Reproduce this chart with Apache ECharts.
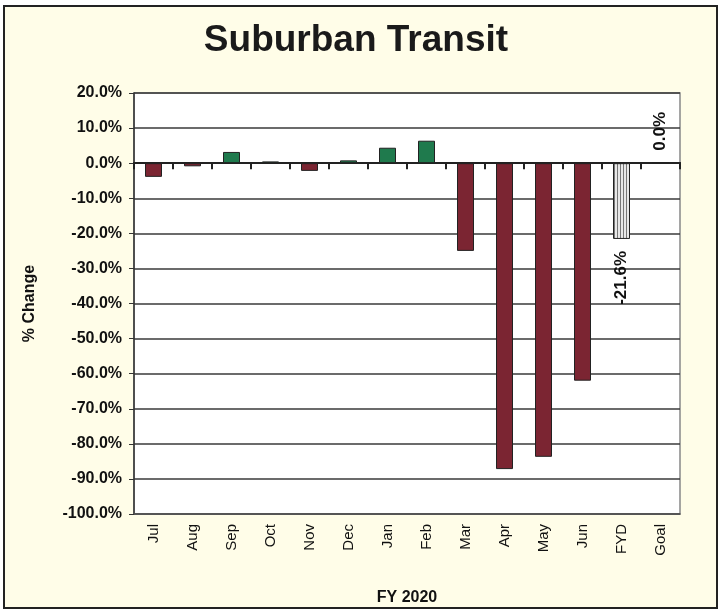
<!DOCTYPE html>
<html>
<head>
<meta charset="utf-8">
<script src="https://cdn.jsdelivr.net/npm/echarts@6/dist/echarts.min.js"></script>
<style>
  html, body { margin: 0; padding: 0; background: #fff; }
  #chart {
    position: absolute; left: 3px; top: 5px;
    width: 715px; height: 604px;
    border: 2px solid #222; box-sizing: border-box;
    background: #fffde8;
  }
</style>
</head>
<body>
<div id="chart"></div>
<script>
const months = ['Jul', 'Aug', 'Sep', 'Oct', 'Nov', 'Dec', 'Jan', 'Feb', 'Mar', 'Apr', 'May', 'Jun', 'FYD', 'Goal']
const changes = [-3.9, -0.9, 3.2, 0.5, -2.2, 0.8, 4.4, 6.4, -25.0, -87.2, -83.7, -62.0, -21.6, 0.0]
const labelled = ['FYD', 'Goal']

const fontFamily = '"Liberation Sans", Arial, sans-serif'

// striped fill for the year-to-date bar
const stripe = document.createElement('canvas')
stripe.width = 3
stripe.height = 3
const sctx = stripe.getContext('2d')
sctx.fillStyle = '#e8e8e8'
sctx.fillRect(0, 0, 3, 3)
sctx.fillStyle = '#777777'
sctx.fillRect(0, 0, 1, 3)

const barData = changes.map((v, i) => {
  const name = months[i]
  let color = v >= 0 ? '#1f7a4d' : '#7b2532'
  if (name === 'FYD') color = { image: stripe, repeat: 'repeat' }
  const item = { value: v, itemStyle: { color: color } }
  if (labelled.includes(name)) {
    item.label = {
      show: true,
      position: v < 0 ? 'bottom' : 'top',
      distance: 12,
      rotate: 90,
      align: v < 0 ? 'right' : 'left',
      verticalAlign: 'middle',
      formatter: (p) => p.value.toFixed(1) + '%',
      fontFamily: fontFamily,
      fontWeight: 'bold',
      fontSize: 17,
      color: '#111'
    }
  }
  return item
})

const chart = echarts.init(document.getElementById('chart'))

// zero line ticks cross the line, so two tick axes sit on it
const zeroAxis = (pos, inside, yIndex) => ({
  type: 'category',
  data: months,
  position: pos,
  axisLine: { onZero: true, onZeroAxisIndex: yIndex, lineStyle: { color: '#222', width: 2 } },
  axisTick: { show: true, inside: inside, length: 6, lineStyle: { color: '#222', width: 2 } },
  axisLabel: { show: false }
})

chart.setOption({
  animation: false,
  title: {
    text: 'Suburban Transit',
    left: 346,
    top: 10,
    textAlign: 'center',
    textStyle: { fontFamily: fontFamily, fontWeight: 'bold', fontSize: 37, color: '#1a1a1a' }
  },
  grid: {
    left: 129,
    top: 86,
    width: 546,
    height: 421,
    outerBoundsMode: 'none',
    containLabel: false,
    show: true,
    backgroundColor: '#ffffff',
    borderColor: '#888',
    borderWidth: 1.5
  },
  xAxis: [
    {
      type: 'category',
      data: months,
      position: 'bottom',
      axisLine: { onZero: false, lineStyle: { color: '#555', width: 1.5 } },
      axisTick: { show: false },
      axisLabel: {
        rotate: 90,
        margin: 10,
        fontFamily: fontFamily,
        fontSize: 15,
        color: '#111'
      },
      name: 'FY 2020',
      nameLocation: 'middle',
      nameGap: 76,
      nameTextStyle: { fontFamily: fontFamily, fontWeight: 'bold', fontSize: 16, color: '#111' }
    },
    zeroAxis('top', true, 0),
    zeroAxis('bottom', false, 1)
  ],
  yAxis: [
    {
      type: 'value',
      min: -100,
      max: 20,
      interval: 10,
      axisLine: { show: true, lineStyle: { color: '#333', width: 1.5 } },
      axisTick: { show: true, length: 5, lineStyle: { color: '#333' } },
      splitLine: { show: true, lineStyle: { color: '#3a3a3a', width: 1.5 } },
      axisLabel: {
        margin: 12,
        formatter: (v) => v.toFixed(1) + '%',
        fontFamily: fontFamily,
        fontWeight: 'bold',
        fontSize: 16,
        color: '#111'
      },
      name: '% Change',
      nameLocation: 'middle',
      nameRotate: 90,
      nameGap: 96,
      nameTextStyle: { fontFamily: fontFamily, fontWeight: 'bold', fontSize: 16, color: '#111' }
    },
    {
      type: 'value',
      min: -100,
      max: 20,
      interval: 10,
      position: 'right',
      axisLine: { show: false },
      axisTick: { show: false },
      axisLabel: { show: false },
      splitLine: { show: false }
    }
  ],
  series: [
    {
      type: 'bar',
      xAxisIndex: 0,
      yAxisIndex: 0,
      data: barData,
      barWidth: 17,
      itemStyle: { borderColor: '#222', borderWidth: 1 }
    }
  ]
})
</script>
</body>
</html>
